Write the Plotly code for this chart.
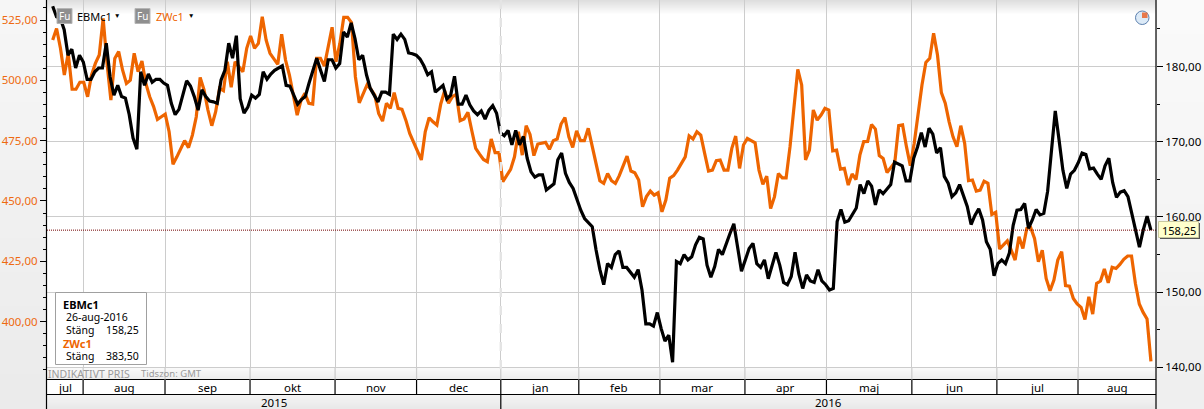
import numpy as np
import plotly.graph_objects as go

W, H = 1204, 409

ebm_values = [188.0,186.6,186.4,184.9,181.5,182.3,179.8,181.5,180.6,178.3,178.3,179.3,179.8,179.8,183.1,178.6,176.2,177.5,176.0,175.8,173.6,170.5,169.0,179.3,177.5,179.0,177.9,178.3,178.3,177.8,177.5,175.1,173.6,174.3,176.2,178.1,177.4,176.0,174.2,176.9,176.0,175.4,175.3,175.1,178.2,179.5,183.1,181.1,184.1,175.7,173.8,174.6,176.2,175.8,176.3,179.3,178.3,179.0,179.5,179.8,180.1,177.5,177.4,176.2,175.0,175.6,176.0,177.8,179.3,181.1,179.5,178.0,180.9,180.9,179.8,180.4,184.6,183.9,185.8,183.7,180.9,181.5,178.9,177.1,176.2,175.3,176.6,176.6,176.3,184.3,183.6,184.3,
183.6,181.8,181.7,181.5,181.0,180.1,178.9,179.3,176.6,177.0,177.5,175.7,176.2,178.7,175.0,175.0,176.2,174.9,174.1,173.6,174.1,173.0,174.2,174.8,173.8,171.2,170.8,171.5,169.6,171.5,169.6,170.7,167.8,166.0,165.3,165.6,165.6,163.6,164.0,164.4,167.6,168.5,165.8,164.6,163.8,162.3,160.9,159.8,159.2,158.7,155.6,153.0,151.0,153.8,153.3,155.0,155.5,153.3,153.3,152.7,152.0,153.0,150.3,145.8,145.8,145.5,147.3,145.2,143.5,144.3,140.7,154.1,153.8,155.0,154.3,154.7,156.3,157.3,157.1,153.6,152.0,153.4,155.7,155.0,156.5,157.8,159.1,155.6,152.8,154.3,155.8,156.5,153.8,153.3,154.3,151.8,153.4,155.3,153.6,151.3,151.0,152.1,155.3,152.4,
150.5,152.3,151.5,151.3,153.0,151.5,151.0,150.3,150.5,159.4,161.0,159.3,159.5,160.3,161.2,164.3,163.1,164.8,164.1,161.6,163.6,163.1,163.7,164.3,167.3,167.1,166.8,164.8,164.8,167.8,169.3,171.2,169.3,171.8,171.0,168.5,169.2,165.4,164.5,162.7,163.2,164.3,162.7,161.4,159.0,160.2,161.1,159.6,156.7,155.7,152.2,153.8,154.3,153.8,155.2,158.9,160.9,161.0,161.8,158.5,159.6,161.0,160.3,160.5,163.4,168.5,174.1,170.2,166.2,163.8,165.7,166.2,167.2,168.5,168.3,166.4,166.5,165.7,165.0,166.8,167.8,164.6,162.6,163.3,163.5,162.7,160.5,158.3,156.0,158.3,160.1,158.25]

zw_values = [516.7,521.5,513.3,502.2,511.2,496.3,496.3,499.2,499.2,493.2,502.2,507.0,510.5,525.7,507.0,491.8,509.1,511.9,504.3,498.7,500.1,511.2,503.6,508.0,498.7,493.2,489.1,483.8,484.9,486.0,478.7,465.2,468.3,471.8,475.0,472.1,477.3,484.9,501.2,496.0,487.7,481.2,487.0,496.7,495.7,507.7,497.1,507.7,505.7,503.6,513.3,518.4,513.3,515.3,526.4,516.7,511.2,509.1,506.6,519.1,508.4,502.2,494.6,485.6,491.8,494.6,490.5,490.2,509.1,509.1,505.9,514.6,522.0,507.7,515.3,526.1,526.1,523.9,501.5,490.7,494.6,498.1,496.3,493.9,486.3,483.1,490.5,488.4,494.9,488.4,488.0,
483.5,478.0,474.1,470.4,467.0,478.7,484.5,482.8,481.5,490.2,495.7,490.5,493.2,494.2,483.3,484.0,486.7,479.1,471.8,469.4,467.2,466.3,475.7,470.0,470.0,458.0,460.7,463.1,468.3,478.7,469.0,481.2,477.6,468.8,473.6,474.1,474.3,471.4,475.0,475.7,481.9,484.6,476.6,472.2,479.1,475.0,475.0,480.1,472.5,465.6,458.4,457.3,461.4,458.4,457.3,460.5,464.3,468.6,462.4,461.7,458.7,447.6,451.8,454.1,452.4,453.4,445.5,450.4,459.4,460.5,462.8,465.6,468.3,477.0,475.7,478.7,477.3,469.7,462.4,462.8,466.7,467.0,462.8,462.8,471.8,476.9,463.5,473.2,475.9,475.0,474.1,462.8,456.9,460.3,446.9,451.8,461.4,459.6,459.6,472.5,489.1,504.5,
498.1,467.0,471.1,487.7,483.5,485.6,488.4,487.7,470.8,471.1,463.2,463.5,456.6,461.2,458.9,469.0,474.6,474.7,481.7,479.8,468.8,467.6,461.8,463.9,466.0,481.2,481.5,472.5,464.6,473.9,486.3,498.1,507.4,509.1,519.5,510.5,494.9,490.5,482.8,476.6,472.5,481.2,473.9,458.4,458.7,454.1,454.5,458.2,457.3,444.4,445.3,430.1,431.8,433.5,429.6,425.5,435.2,430.3,438.6,439.0,434.5,424.8,429.6,417.9,412.8,417.2,425.5,429.0,414.9,414.7,409.6,407.3,405.9,400.9,410.3,403.1,415.8,416.8,421.8,416.1,422.5,422.0,423.7,425.8,427.2,427.2,415.8,407.3,403.8,401.1,383.5]

month_labels = ["jul","aug","sep","okt","nov","dec","jan","feb","mar","apr","maj","jun","jul","aug"]
month_edges = [-1.46,7.8,28.8,50.6,72.4,93.3,114.9,134.9,155.7,177.5,198.4,220.3,242.1,262.9,282.9]
year_labels = ["2015","2016"]
year_edges = [-1.46,114.9,282.9]
left_ticks = [400,425,450,475,500,525]
right_ticks = [140,150,160,170,180]
last_close = 158.25

LAST_SESSION = 281.6
x_ebm = np.linspace(0, LAST_SESSION, len(ebm_values))
x_zw = np.linspace(0, LAST_SESSION, len(zw_values))

ORANGE = "#ee6500"
GRID = "#cccccc"
FONT = "Noto Sans"
py = lambda y: 1 - y / H
px = lambda x: x / W

fig = go.Figure()
fig.add_trace(go.Scatter(x=x_ebm, y=ebm_values, yaxis="y2", mode="lines", name="EBMc1",
                         line=dict(color="#000000", width=3.2)))
fig.add_trace(go.Scatter(x=x_zw, y=zw_values, yaxis="y", mode="lines", name="ZWc1",
                         line=dict(color=ORANGE, width=3.2)))

shapes = []
def rect(x0, y0, x1, y1, fill, line=None, layer="below", lw=1):
    shapes.append(dict(type="rect", xref="paper", yref="paper", x0=px(x0), x1=px(x1), y0=py(y0), y1=py(y1),
                       fillcolor=fill, line=dict(color=line or "rgba(0,0,0,0)", width=lw if line else 0), layer=layer))
def hline(x0, x1, y, color, w=1, dash="solid", layer="above"):
    shapes.append(dict(type="line", xref="paper", yref="paper", x0=px(x0), x1=px(x1), y0=py(y), y1=py(y),
                       line=dict(color=color, width=w, dash=dash), layer=layer))
def vline_sess(s, y0, y1, color, w=1, dash="solid", layer="above"):
    shapes.append(dict(type="line", xref="x", yref="paper", x0=s, x1=s, y0=py(y0), y1=py(y1),
                       line=dict(color=color, width=w, dash=dash), layer=layer))

# side panels, stepped grey gradients
for i in range(12):
    g = 246 - i
    rect(0, i * 34, 47, (i + 1) * 34 + 1, f"rgb({g},{g},{g})")
    g2 = 250 - i
    rect(1157, i * 34, 1204, (i + 1) * 34 + 1, f"rgb({g2},{g2},{g2})")
# top gradient in the plot
for i in range(14):
    a = 0.13 * (1 - i / 14)
    rect(47, i, 1156, i + 1, f"rgba(0,0,0,{a:.3f})")
# strip above month row
for i in range(12):
    g = 248 - int(i * 1.6)
    rect(47, 367.5 + i, 1156, 368.5 + i, f"rgb({g},{g},{g})", layer="above")
hline(47, 1156, 367.5, GRID, 1.2)
# month row and year row
rect(47, 379.5, 1156, 394.5, "#ffffff", layer="above")
for i in range(15):
    g = 246 - int(i * 1.1)
    rect(47, 394.5 + i, 1156, 395.5 + i, f"rgb({g},{g},{g})", layer="above")
hline(47, 1156, 379.5, "#000000", 1.2)
hline(47, 1156, 394.5, "#000000", 1.2)
for s in month_edges[1:-1]:
    vline_sess(s, 379.5, 394.5, "#000000", 1.2)
    vline_sess(s, 367.5, 379.5, GRID, 1.2)
vline_sess(year_edges[1], 394.5, 409, "#000000", 1.2)
vline_sess(year_edges[1], 0, 375, "#e4e4e4", 2.4, "dash")
shapes.append(dict(type="line", xref="paper", yref="y2", x0=px(47), x1=px(1156), y0=last_close, y1=last_close,
                   line=dict(color="#700000", width=1, dash="1px,1px"), layer="above"))
# axis frame
shapes.append(dict(type="line", xref="paper", yref="paper", x0=px(46.5), x1=px(46.5), y0=0, y1=1, line=dict(color="#000", width=1.2)))
shapes.append(dict(type="line", xref="paper", yref="paper", x0=px(1156), x1=px(1156), y0=0, y1=1, line=dict(color="#000", width=1.2)))
# legend box
rect(55.5, 292.5, 146.5, 364.5, "#ffffff", "#a0a0a0", "above", 1)
# last value tag
rect(1160, 223, 1200, 239, "#555555", None, "above")
rect(1158.5, 221.5, 1198.5, 237.5, "#ffffcc", "#c8c8a0", "above", 1)
# Fu icons
for xx in (57, 135):
    rect(xx, 8.5, xx + 15, 23.5, "#8f8f8f", "#b5b5b5", "above", 1)
# clock icon
shapes.append(dict(type="circle", xref="paper", yref="paper", x0=px(1135.5), x1=px(1149), y0=py(11), y1=py(24.5),
                   fillcolor="#dceaf7", line=dict(color="#5a7fae", width=1), layer="above"))
rect(1142, 12.5, 1147.5, 18, "#e8784a", None, "above")

ann = []
def text(x, y, s, color="#000000", size=11, anchor="left", bold=False):
    ann.append(dict(xref="paper", yref="paper", x=px(x), y=py(y), text=f"<b>{s}</b>" if bold else s, showarrow=False,
                    xanchor=anchor, yanchor="middle", font=dict(family=FONT, size=size, color=color),
                    xshift=0, yshift=0, borderpad=0, borderwidth=0))
for i, lab in enumerate(month_labels):
    ann.append(dict(xref="x", yref="paper", x=(month_edges[i] + month_edges[i + 1]) / 2, y=py(387), text=lab, showarrow=False,
                    xanchor="center", yanchor="middle", font=dict(family=FONT, size=11.5, color="#000")))
for i, lab in enumerate(year_labels):
    ann.append(dict(xref="x", yref="paper", x=(year_edges[i] + year_edges[i + 1]) / 2, y=py(402), text=lab, showarrow=False,
                    xanchor="center", yanchor="middle", font=dict(family=FONT, size=11.5, color="#000")))
text(48, 373.5, "INDIKATIVT PRIS", "#9a9a9a", 10.5)
text(141, 373.5, "Tidszon: GMT", "#9a9a9a", 9.5)
text(62.5, 304, "EBMc1", "#000000", 11, bold=True)
text(65.5, 317, "26-aug-2016", "#000000", 10.5)
text(66, 330, "Stäng", "#000000", 10.5)
text(138.5, 330, "158,25", "#000000", 10.5, "right")
text(62.5, 343, "ZWc1", ORANGE, 11, bold=True)
text(66, 356, "Stäng", "#000000", 10.5)
text(138.5, 356, "383,50", "#000000", 10.5, "right")
text(1161.5, 230, "158,25", "#000000", 11)
text(64.5, 16.5, "Fu", "#ffffff", 10, "center")
text(142.5, 16.5, "Fu", "#ffffff", 10, "center")
text(77, 16.5, "EBMc1", "#000000", 11)
text(155.5, 16.5, "ZWc1", ORANGE, 11)
text(117, 15, "▼", "#000000", 6.5, "center")
text(191, 15, "▼", "#000000", 6.5, "center")

fig.update_layout(
    width=W, height=H, margin=dict(l=0, r=0, t=0, b=0), showlegend=False,
    paper_bgcolor="#ececec", plot_bgcolor="#ffffff", separators=",.",
    font=dict(family=FONT, size=11),
    shapes=shapes, annotations=ann,
    xaxis=dict(domain=[px(47), px(1156)], range=[month_edges[0], month_edges[-1]], tickmode="array", tickvals=month_edges[1:-1],
               showticklabels=False, ticks="", showgrid=True, gridcolor=GRID, gridwidth=1.2, zeroline=False, showline=False),
    yaxis=dict(domain=[py(379.5), 1], range=[376.0, 533.3], tickmode="array", tickvals=left_ticks, tickformat=".2f",
               tickfont=dict(color="#ee6a10", size=11.5, family=FONT), ticks="outside", ticklen=6, tickcolor="#000",
               showgrid=False, zeroline=False, showline=False,
               minor=dict(dtick=5, tick0=0, ticks="outside", ticklen=3, tickcolor="#000", showgrid=False)),
    yaxis2=dict(overlaying="y", side="right", anchor="x", range=[138.4, 188.84], tickmode="array", tickvals=right_ticks,
                tickformat=".2f", tickfont=dict(color="#000", size=11.5, family=FONT), ticks="outside", ticklen=6, tickcolor="#000",
                showgrid=True, gridcolor=GRID, gridwidth=1.2, zeroline=False, showline=False,
                minor=dict(dtick=5, tick0=0, ticks="outside", ticklen=3, tickcolor="#000", showgrid=False)),
)
fig.write_html("out.html", config={"displayModeBar": False}, post_script="document.body.style.margin='0';")
